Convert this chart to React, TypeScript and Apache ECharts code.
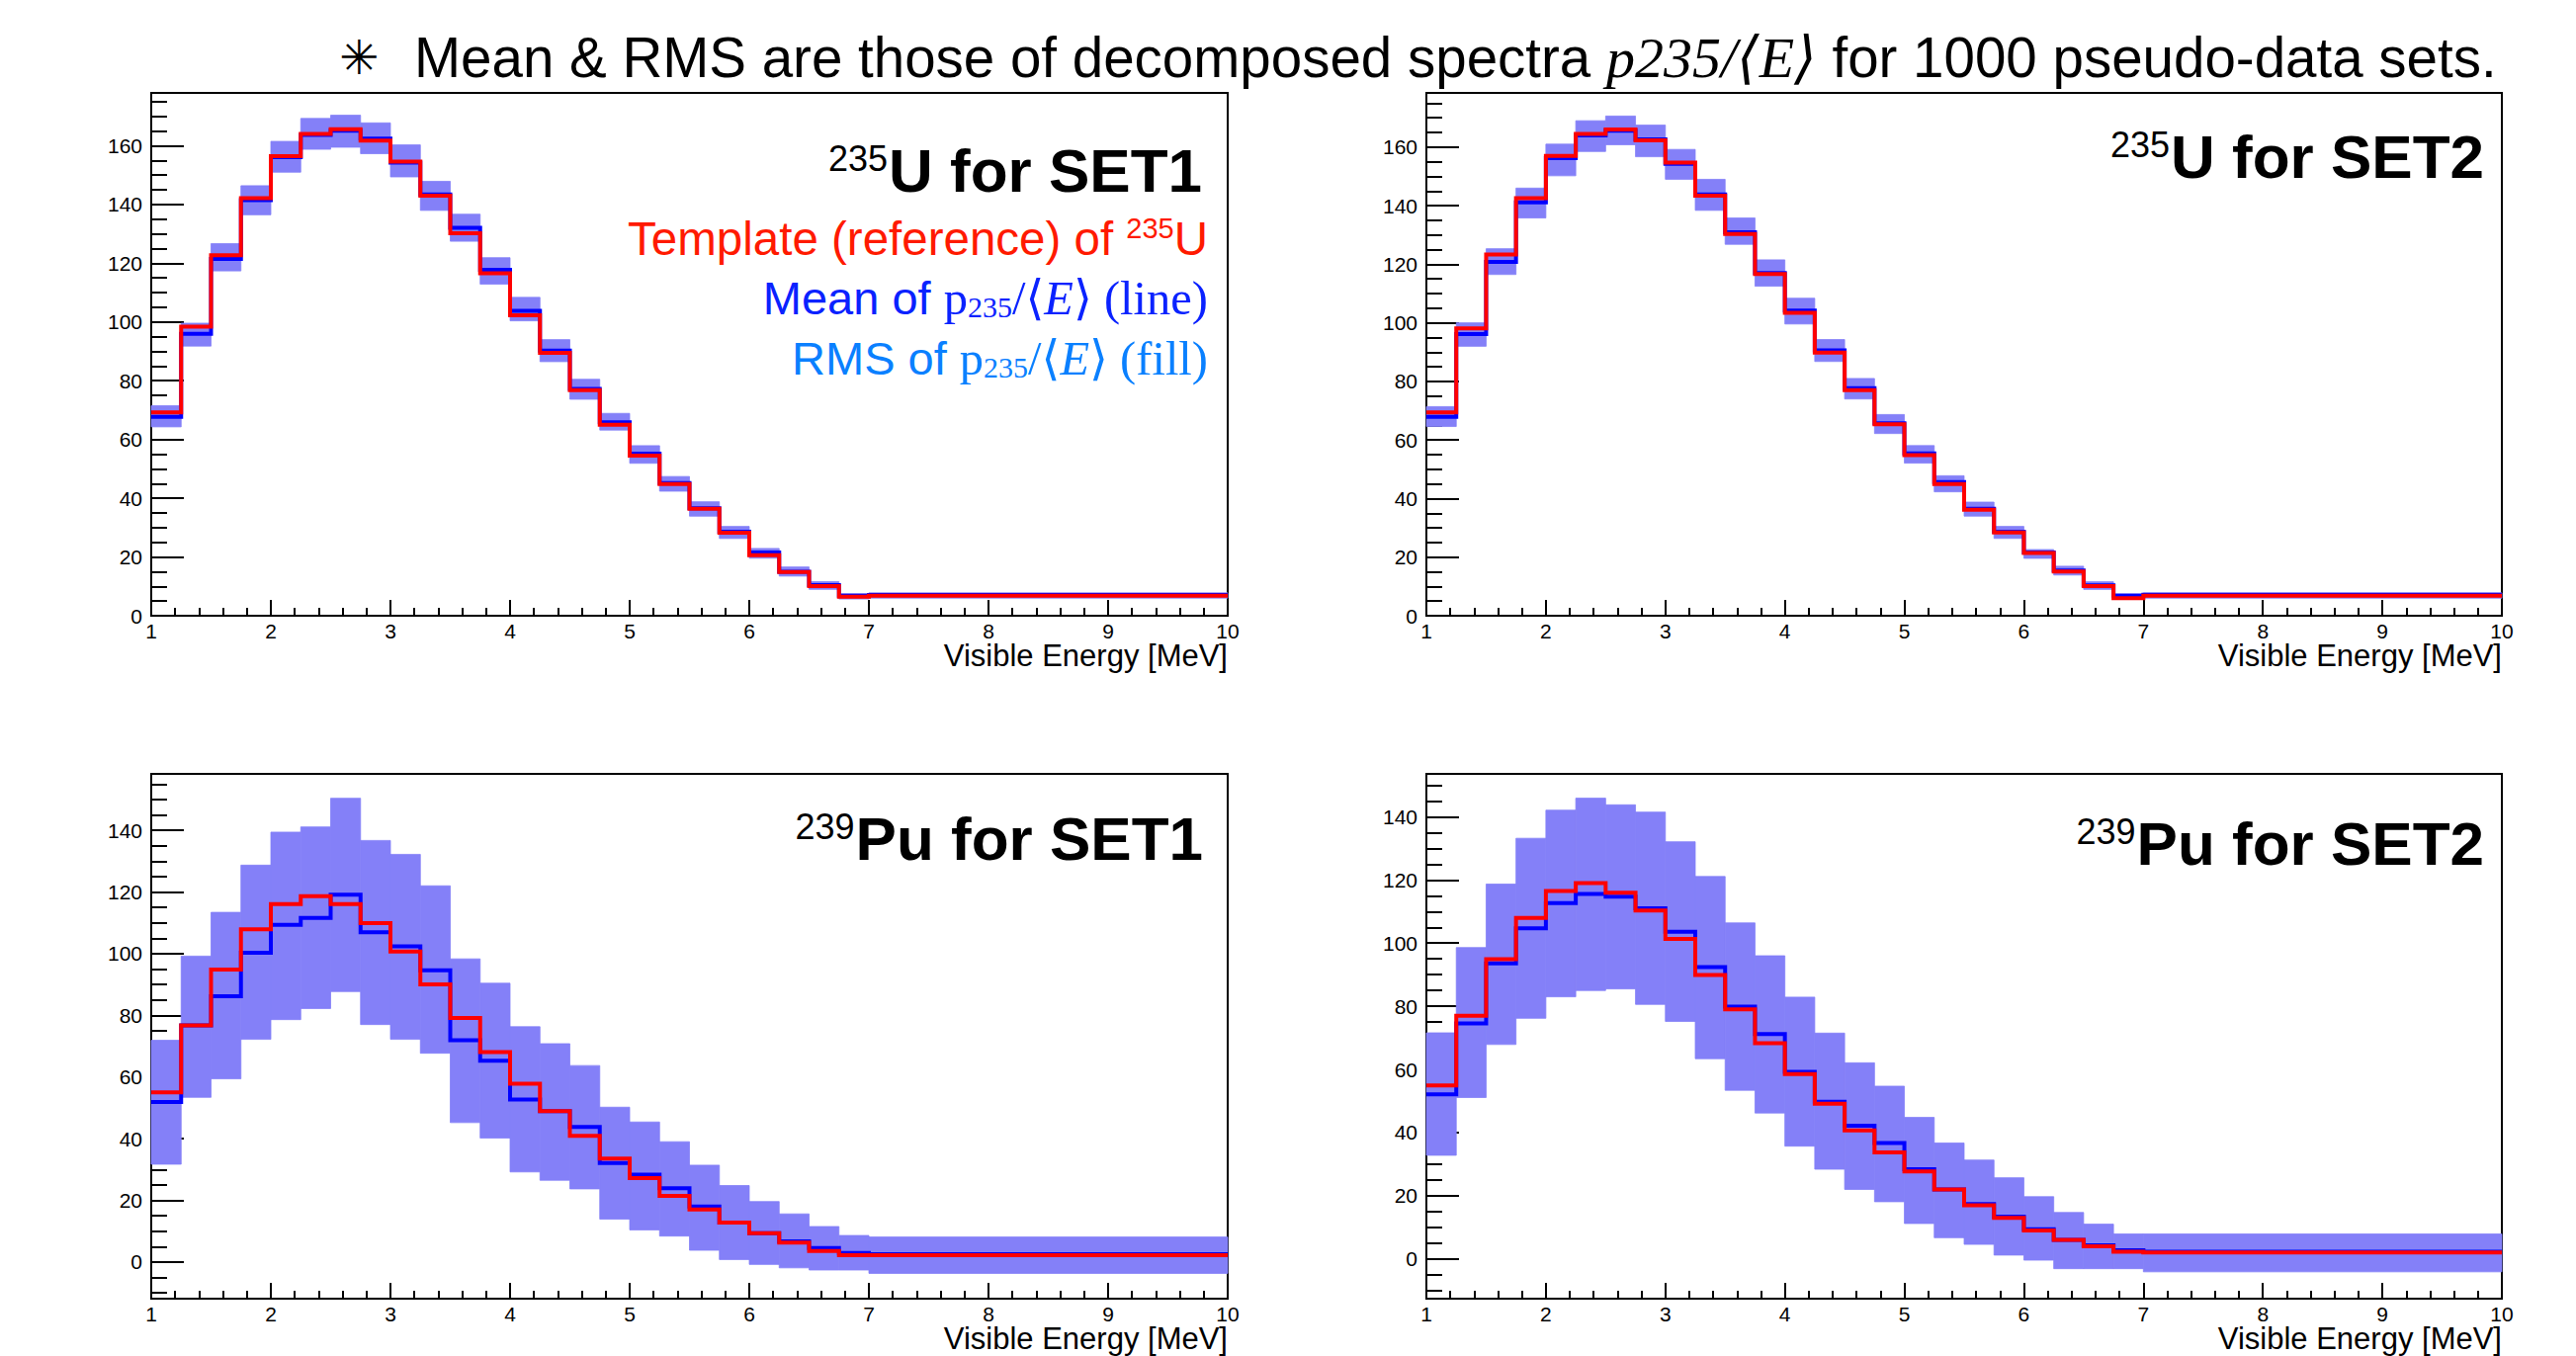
import React, { useEffect, useRef } from "react";
import * as echarts from "echarts";

const W = 2606;
const H = 1372;
const SANS = "'Liberation Sans', Arial, Helvetica, sans-serif";
const SERIF = "'Liberation Serif', 'DejaVu Serif', 'Times New Roman', serif";

// Bin edges (MeV): 24 bins of 0.25 MeV from 1 to 7, one wide bin 7-10
const BIN_EDGES = [1, 1.25, 1.5, 1.75, 2, 2.25, 2.5, 2.75, 3, 3.25, 3.5, 3.75, 4, 4.25, 4.5, 4.75, 5, 5.25, 5.5, 5.75, 6, 6.25, 6.5, 6.75, 7, 10];

// 235U SET1
const U1_TEMPLATE = [69.2, 98.4, 122.7, 142.2, 156.5, 164.0, 165.6, 161.8, 154.6, 143.0, 130.2, 116.6, 102.3, 89.5, 76.8, 65.0, 54.5, 44.8, 36.4, 28.3, 20.6, 14.9, 10.1, 6.5, 6.8];
const U1_MEAN = [67.7, 96.0, 121.5, 141.5, 156.1, 163.7, 165.1, 162.4, 154.3, 143.4, 132.1, 117.8, 103.8, 90.3, 77.2, 65.9, 55.2, 45.2, 36.6, 28.6, 21.5, 15.0, 10.4, 6.8, 7.1];
const U1_LO = [64.3, 91.8, 117.4, 136.5, 151.0, 158.8, 159.5, 157.3, 149.4, 138.0, 127.5, 112.9, 100.4, 86.5, 73.7, 63.2, 51.9, 42.4, 33.9, 26.3, 19.6, 13.5, 9.0, 5.7, 6.0];
const U1_HI = [71.5, 99.6, 126.7, 146.4, 161.5, 169.3, 170.4, 167.8, 160.3, 147.9, 136.7, 121.9, 108.4, 94.0, 80.5, 68.9, 57.9, 47.4, 38.8, 30.4, 22.9, 16.6, 11.6, 7.5, 7.8];

// 235U SET2
const U2_TEMPLATE = [69.4, 98.1, 123.3, 142.6, 157.0, 164.5, 166.0, 162.3, 154.7, 143.4, 130.3, 116.7, 103.4, 89.8, 77.0, 65.4, 54.8, 45.0, 36.2, 28.4, 21.4, 15.1, 10.1, 6.0, 6.8];
const U2_MEAN = [67.9, 96.2, 120.8, 141.1, 156.2, 164.0, 165.6, 162.6, 154.3, 143.8, 130.9, 117.0, 104.2, 90.6, 77.7, 65.7, 55.4, 45.6, 36.5, 28.7, 21.6, 15.4, 10.4, 6.8, 7.2];
const U2_LO = [64.6, 92.0, 116.5, 135.8, 150.2, 158.5, 160.8, 156.7, 149.0, 138.4, 126.8, 112.5, 99.6, 86.8, 74.0, 62.2, 52.1, 42.3, 34.0, 26.4, 19.6, 13.9, 9.0, 5.7, 6.0];
const U2_HI = [71.4, 100.0, 125.3, 146.0, 161.0, 169.0, 170.6, 167.5, 159.2, 149.0, 135.8, 121.5, 108.4, 94.3, 81.0, 68.7, 58.1, 47.8, 38.8, 30.5, 22.6, 16.9, 11.6, 7.5, 7.8];

// 239Pu SET1
const P1_TEMPLATE = [55.0, 76.7, 94.8, 107.9, 116.1, 118.6, 116.1, 109.9, 100.7, 90.0, 79.1, 68.1, 57.8, 48.9, 40.9, 33.5, 27.2, 21.4, 17.0, 12.8, 9.3, 6.3, 3.6, 2.2, 2.2];
const P1_MEAN = [51.9, 76.7, 86.2, 100.3, 109.3, 111.6, 119.1, 106.9, 102.4, 94.6, 71.9, 65.3, 52.7, 48.9, 43.8, 32.1, 28.3, 23.9, 18.0, 12.8, 9.3, 6.7, 4.5, 2.9, 2.5];
const P1_LO = [31.7, 53.4, 59.4, 72.2, 78.6, 82.2, 87.7, 77.0, 72.2, 67.7, 45.2, 40.2, 29.2, 26.5, 23.7, 13.9, 10.4, 8.4, 3.8, 0.8, -0.8, -1.9, -2.6, -2.6, -3.7];
const P1_HI = [71.9, 99.2, 113.4, 128.7, 139.4, 141.1, 150.4, 136.7, 132.2, 122.0, 98.3, 90.4, 76.3, 70.8, 63.7, 50.2, 45.4, 39.0, 31.4, 24.8, 19.6, 15.6, 11.5, 8.6, 8.1];

// 239Pu SET2
const P2_TEMPLATE = [54.9, 77.0, 94.9, 108.0, 116.5, 119.0, 116.0, 110.3, 101.3, 89.9, 79.0, 68.3, 58.5, 49.1, 40.7, 33.7, 27.7, 22.0, 17.0, 13.0, 9.0, 6.0, 4.0, 2.3, 2.0];
const P2_MEAN = [52.1, 74.6, 93.6, 104.7, 112.7, 115.6, 114.7, 111.0, 103.6, 92.4, 79.9, 71.2, 59.2, 49.8, 42.2, 36.7, 28.4, 22.0, 17.4, 13.4, 9.4, 6.0, 4.3, 2.7, 2.3];
const P2_LO = [32.8, 51.1, 67.9, 76.2, 83.0, 85.0, 85.5, 80.6, 75.2, 63.4, 53.4, 46.2, 35.7, 28.4, 22.0, 18.1, 11.2, 6.7, 4.6, 1.2, -0.4, -3.1, -3.1, -3.1, -4.1];
const P2_HI = [71.6, 98.6, 118.7, 133.2, 142.1, 145.9, 143.8, 141.5, 132.1, 121.1, 106.4, 96.0, 82.9, 71.5, 62.1, 54.7, 44.8, 36.7, 31.3, 25.7, 19.7, 14.7, 11.0, 7.9, 7.9];

// Tick values
const Y_MAJOR_U = [0, 20, 40, 60, 80, 100, 120, 140, 160];
const Y_MINOR_U = [0, 5, 10, 15, 20, 25, 30, 35, 40, 45, 50, 55, 60, 65, 70, 75, 80, 85, 90, 95, 100, 105, 110, 115, 120, 125, 130, 135, 140, 145, 150, 155, 160, 165, 170, 175];
const Y_MAJOR_PU = [0, 20, 40, 60, 80, 100, 120, 140];
const Y_MINOR_PU = [-10, -5, 0, 5, 10, 15, 20, 25, 30, 35, 40, 45, 50, 55, 60, 65, 70, 75, 80, 85, 90, 95, 100, 105, 110, 115, 120, 125, 130, 135, 140, 145, 150, 155];

const X_TITLE = "Visible Energy [MeV]";
const MAIN_TITLE_A = "Mean & RMS are those of decomposed spectra ";
const MAIN_TITLE_M = "p235/⟨E⟩";
const MAIN_TITLE_B = " for 1000 pseudo-data sets.";

const PANELS = [
  { grid: { left: 153, top: 94, width: 1089, height: 529 }, yMin: 0, yMax: 178, major: Y_MAJOR_U, minor: Y_MINOR_U, tmpl: U1_TEMPLATE, mean: U1_MEAN, lo: U1_LO, hi: U1_HI, iso: "235", el: "U", set: "SET1", tx: 1216, ty: 172 },
  { grid: { left: 1443, top: 94, width: 1088, height: 529 }, yMin: 0, yMax: 178.5, major: Y_MAJOR_U, minor: Y_MINOR_U, tmpl: U2_TEMPLATE, mean: U2_MEAN, lo: U2_LO, hi: U2_HI, iso: "235", el: "U", set: "SET2", tx: 2513, ty: 158 },
  { grid: { left: 153, top: 783, width: 1089, height: 531 }, yMin: -11.9, yMax: 158.3, major: Y_MAJOR_PU, minor: Y_MINOR_PU, tmpl: P1_TEMPLATE, mean: P1_MEAN, lo: P1_LO, hi: P1_HI, iso: "239", el: "Pu", set: "SET1", tx: 1217, ty: 848 },
  { grid: { left: 1443, top: 783, width: 1088, height: 531 }, yMin: -12.6, yMax: 153.6, major: Y_MAJOR_PU, minor: Y_MINOR_PU, tmpl: P2_TEMPLATE, mean: P2_MEAN, lo: P2_LO, hi: P2_HI, iso: "239", el: "Pu", set: "SET2", tx: 2513, ty: 853 },
];

const RED = "#ff0000";
const BLUE = "#0000ff";
const FILL = "#8480f8";

function stepData(values: number[]) {
  const pts: number[][] = values.map((v, k) => [BIN_EDGES[k], v]);
  pts.push([BIN_EDGES[values.length], values[values.length - 1]]);
  return pts;
}

function buildOption() {
  const black = { color: "#000", width: 2 };
  const grid = PANELS.map((p) => ({
    ...p.grid,
    show: true,
    borderColor: "#000",
    borderWidth: 2,
    backgroundColor: "transparent",
    containLabel: false,
    outerBoundsMode: "none",
  }));
  const xAxis = PANELS.map((p, i) => ({
    type: "value",
    gridIndex: i,
    min: 1,
    max: 10,
    interval: 1,
    axisLine: { show: true, onZero: false, lineStyle: black },
    axisTick: { show: true, inside: true, length: 16, lineStyle: black },
    minorTick: { show: true, splitNumber: 5, length: 8, lineStyle: black },
    axisLabel: { show: true, color: "#000", fontSize: 21, fontFamily: SANS, margin: 5 },
    splitLine: { show: false },
    minorSplitLine: { show: false },
  }));
  const yAxis: any[] = [];
  PANELS.forEach((p, i) => {
    yAxis.push({
      type: "value",
      gridIndex: i,
      position: "left",
      min: p.yMin,
      max: p.yMax,
      axisLine: { show: true, onZero: false, lineStyle: black },
      axisTick: { show: true, inside: true, length: 33, customValues: p.major, lineStyle: black },
      axisLabel: { show: true, customValues: p.major, color: "#000", fontSize: 21, fontFamily: SANS, margin: 9 },
      splitLine: { show: false },
    });
    yAxis.push({
      type: "value",
      gridIndex: i,
      position: "left",
      offset: 0,
      min: p.yMin,
      max: p.yMax,
      axisLine: { show: false, onZero: false },
      axisTick: { show: true, inside: true, length: 16, customValues: p.minor, lineStyle: black },
      axisLabel: { show: false },
      splitLine: { show: false },
    });
  });

  const series: any[] = [];
  PANELS.forEach((p, i) => {
    series.push({
      type: "custom",
      xAxisIndex: i,
      yAxisIndex: 2 * i,
      silent: true,
      z: 1,
      data: p.lo.map((lo, k) => [BIN_EDGES[k], BIN_EDGES[k + 1], lo, p.hi[k]]),
      encode: { x: [0, 1], y: [2, 3] },
      renderItem: (params: any, api: any) => {
        const a = api.coord([api.value(0), api.value(3)]);
        const b = api.coord([api.value(1), api.value(2)]);
        return {
          type: "rect",
          shape: { x: a[0], y: a[1], width: b[0] - a[0], height: b[1] - a[1] },
          style: { fill: FILL, stroke: FILL, lineWidth: 0.8 },
        };
      },
    });
    series.push({
      type: "line",
      xAxisIndex: i,
      yAxisIndex: 2 * i,
      step: "end",
      symbol: "none",
      showSymbol: false,
      silent: true,
      z: 2,
      data: stepData(p.mean),
      lineStyle: { color: BLUE, width: 4, join: "miter" },
    });
    series.push({
      type: "line",
      xAxisIndex: i,
      yAxisIndex: 2 * i,
      step: "end",
      symbol: "none",
      showSymbol: false,
      silent: true,
      z: 3,
      data: stepData(p.tmpl),
      lineStyle: { color: RED, width: 4, join: "miter" },
    });
  });

  const graphic: any[] = [];
  // main title
  graphic.push({
    type: "text",
    x: 363,
    y: 58,
    style: { text: "✳", fontSize: 48, fontFamily: "'DejaVu Sans', sans-serif", fill: "#000", align: "center", verticalAlign: "middle" },
  });
  graphic.push({
    type: "text",
    x: 419,
    y: 58,
    style: {
      text: `{n|${MAIN_TITLE_A}}{m|${MAIN_TITLE_M}}{n|${MAIN_TITLE_B}}`,
      align: "left",
      verticalAlign: "middle",
      rich: {
        n: { fontSize: 56.5, fontFamily: SANS, fill: "#000" },
        m: { fontSize: 58, fontFamily: SERIF, fontStyle: "italic", fill: "#000" },
      },
    },
  });
  PANELS.forEach((p) => {
    graphic.push({
      type: "text",
      x: p.tx,
      y: p.ty,
      style: {
        text: `{s|${p.iso}}{b|${p.el} for ${p.set}}`,
        align: "right",
        verticalAlign: "middle",
        rich: {
          s: { fontSize: 36, fontFamily: SANS, fill: "#000", padding: [0, 1, 24, 0] },
          b: { fontSize: 62, fontFamily: SANS, fontWeight: "bold", fill: "#000" },
        },
      },
    });
    graphic.push({
      type: "text",
      x: p.grid.left + p.grid.width,
      y: p.grid.top + p.grid.height + 40,
      style: { text: X_TITLE, fontSize: 31, fontFamily: SANS, fill: "#000", align: "right", verticalAlign: "middle" },
    });
  });
  // legend lines (top-left panel)
  graphic.push({
    type: "text",
    x: 1222,
    y: 241,
    style: {
      text: "{t|Template (reference) of }{s|235}{t|U}",
      align: "right",
      verticalAlign: "middle",
      rich: {
        t: { fontSize: 47.5, fontFamily: SANS, fill: "#ff1a00" },
        s: { fontSize: 29, fontFamily: SANS, fill: "#ff1a00", padding: [0, 0, 20, 0] },
      },
    },
  });
  const mathLine = (label: string, tail: string, color: string, y: number) => ({
    type: "text",
    x: 1222,
    y,
    style: {
      text: `{t|${label}}{p|p}{u|235}{p|/⟨}{e|E}{p|⟩ ${tail}}`,
      align: "right",
      verticalAlign: "middle",
      rich: {
        t: { fontSize: 47, fontFamily: SANS, fill: color },
        p: { fontSize: 48.5, fontFamily: SERIF, fill: color },
        u: { fontSize: 30, fontFamily: SERIF, fill: color, padding: [18, 0, 0, 0] },
        e: { fontSize: 48.5, fontFamily: SERIF, fontStyle: "italic", fill: color },
      },
    },
  });
  graphic.push(mathLine("Mean of ", "(line)", "#0a22ff", 301));
  graphic.push(mathLine("RMS of ", "(fill)", "#0a80ff", 362));

  return {
    animation: false,
    backgroundColor: "#fff",
    grid,
    xAxis,
    yAxis,
    series,
    graphic,
  };
}

export default function App() {
  const ref = useRef<HTMLDivElement>(null);
  useEffect(() => {
    document.body.style.margin = "0";
    const chart = echarts.init(ref.current as HTMLDivElement, null, { renderer: "svg", width: W, height: H });
    chart.setOption(buildOption() as any);
    return () => chart.dispose();
  }, []);
  return (
    <div
      ref={ref}
      style={{ position: "absolute", left: 0, top: 0, width: W, height: H, background: "#fff" }}
    />
  );
}
